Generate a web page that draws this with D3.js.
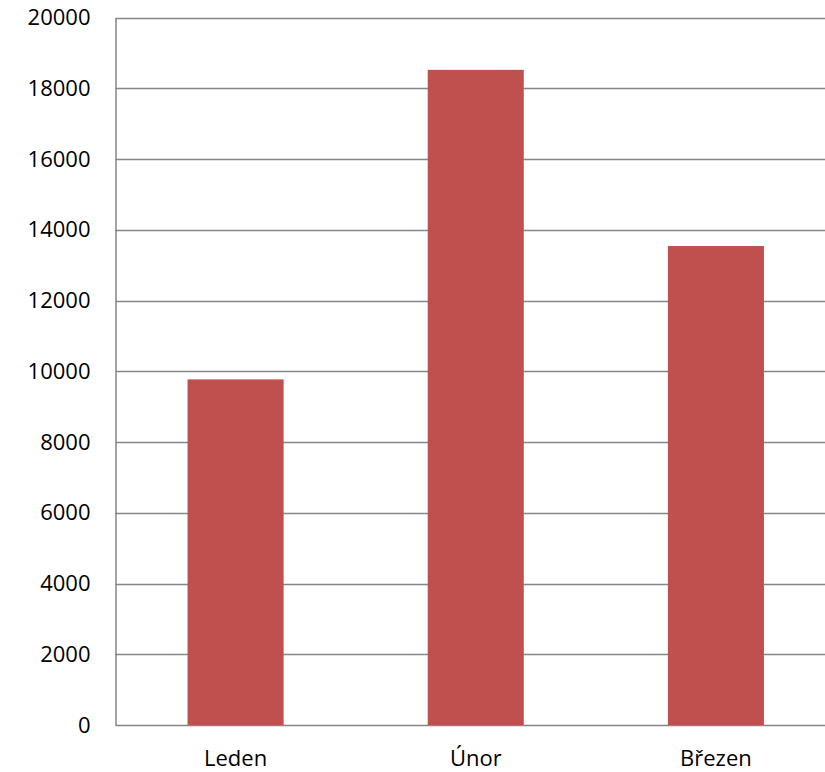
<!DOCTYPE html>
<html>
<head>
<meta charset="utf-8">
<script src="https://cdn.jsdelivr.net/npm/d3@7"></script>
<style>
  body { margin: 0; background: #fff; }
  svg { display: block; }
  .axis text { font-family: "Open Sans", sans-serif; font-size: 22px; fill: #000; }
</style>
</head>
<body>
<svg id="chart" width="825" height="772"></svg>
<script>
const categories = ["Leden", "Únor", "Březen"];
const values = [9770, 18520, 13540];
const yTicks = [0, 2000, 4000, 6000, 8000, 10000, 12000, 14000, 16000, 18000, 20000];

const width = 825, height = 772;
const margin = { top: 17.5, left: 115.5, bottom: 47, right: -11 };

const svg = d3.select("#chart");

const x = d3.scaleBand()
  .domain(categories)
  .range([margin.left, width - margin.right])
  .paddingInner(0.6)
  .paddingOuter(0.3);

const y = d3.scaleLinear()
  .domain([0, 20000])
  .range([height - margin.bottom, margin.top]);

// gridlines
svg.append("g")
  .selectAll("line")
  .data(yTicks)
  .join("line")
  .attr("x1", margin.left)
  .attr("x2", width)
  .attr("y1", d => Math.round(y(d)) + 0.5)
  .attr("y2", d => Math.round(y(d)) + 0.5)
  .attr("stroke", "#868686")
  .attr("stroke-width", 1.5);

// bars
svg.append("g")
  .selectAll("rect")
  .data(values)
  .join("rect")
  .attr("x", (d, i) => x(categories[i]))
  .attr("width", x.bandwidth())
  .attr("y", d => y(d))
  .attr("height", d => y(0) - y(d))
  .attr("fill", "#C0504D");

// y axis
const yAxis = svg.append("g")
  .attr("class", "axis y")
  .attr("transform", `translate(${margin.left},0)`)
  .call(d3.axisLeft(y).tickValues(yTicks).tickSize(0).tickPadding(25).tickFormat(d3.format("d")));
yAxis.select(".domain").attr("stroke", "#868686").attr("stroke-width", 1.5);

// x axis
const xAxis = svg.append("g")
  .attr("class", "axis x")
  .attr("transform", `translate(0,${Math.round(y(0)) + 0.5})`)
  .call(d3.axisBottom(x).tickSize(0));
xAxis.select(".domain").remove();
xAxis.selectAll("text").attr("y", 40).attr("dy", 0);
</script>
</body>
</html>
